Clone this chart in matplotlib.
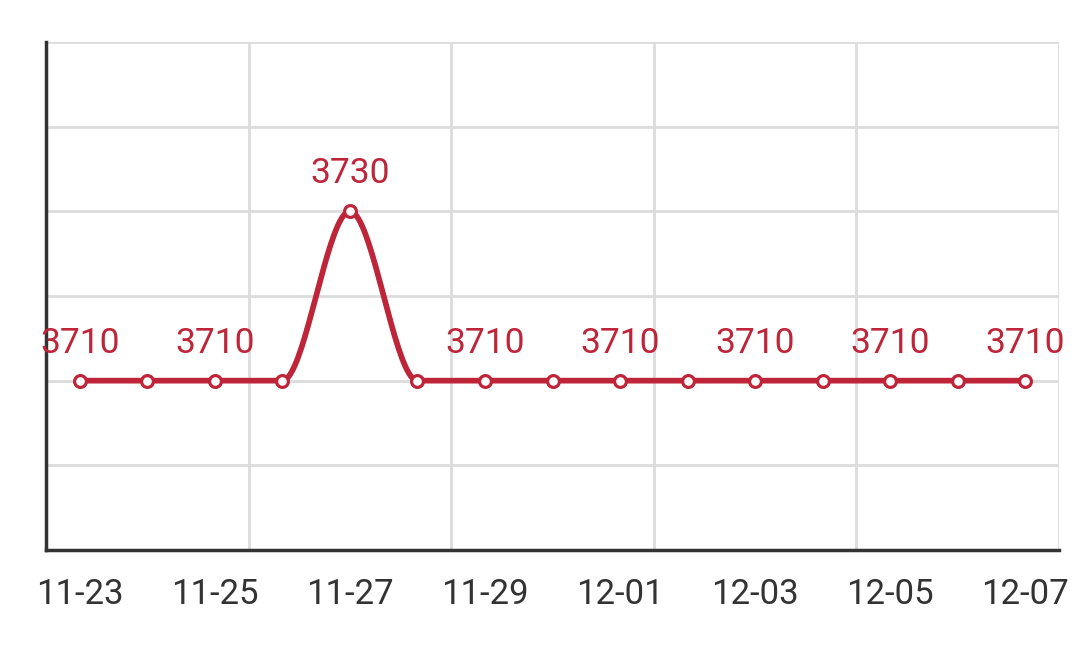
import matplotlib
matplotlib.use("Agg")
import matplotlib.pyplot as plt
import numpy as np

dates = ["11-23", "11-24", "11-25", "11-26", "11-27", "11-28", "11-29", "11-30",
         "12-01", "12-02", "12-03", "12-04", "12-05", "12-06", "12-07"]
values = [3710, 3710, 3710, 3710, 3730, 3710, 3710, 3710,
          3710, 3710, 3710, 3710, 3710, 3710, 3710]

red = "#be2539"
plt.rcParams["font.family"] = ["Roboto", "DejaVu Sans"]


def monotone_curve(x, y, n=40):
    # Fritsch-Carlson monotone cubic, only used to draw the smooth line
    x = np.asarray(x, float)
    y = np.asarray(y, float)
    h = np.diff(x)
    d = np.diff(y) / h
    m = np.zeros_like(y)
    m[0], m[-1] = d[0], d[-1]
    for i in range(1, len(y) - 1):
        if d[i - 1] * d[i] > 0:
            m[i] = 2 / (1 / d[i - 1] + 1 / d[i])
    xs, ys = [], []
    for i in range(len(h)):
        t = np.linspace(0, 1, n)
        h00 = 2 * t**3 - 3 * t**2 + 1
        h10 = t**3 - 2 * t**2 + t
        h01 = -2 * t**3 + 3 * t**2
        h11 = t**3 - t**2
        xs.append(x[i] + t * h[i])
        ys.append(h00 * y[i] + h10 * h[i] * m[i] + h01 * y[i + 1] + h11 * h[i] * m[i + 1])
    return np.concatenate(xs), np.concatenate(ys)


fig = plt.figure(figsize=(10.79, 6.46), dpi=100)
ax = fig.add_axes([0.0426, 0.1486, 0.9389, 0.7864])

idx = np.arange(len(dates))
cx, cy = monotone_curve(idx, values)
ax.plot(cx, cy, color=red, lw=4.1, zorder=3, solid_capstyle="round")
ax.plot(idx, values, "o", ms=8.5, mfc="white", mec=red, mew=2.3, zorder=4)

for i in range(0, len(dates), 2):
    ax.annotate(str(values[i]), (idx[i], values[i]), xytext=(0, 27),
                textcoords="offset points", ha="center", va="center",
                fontsize=25.5, color=red, zorder=5)

ax.set_xlim(-0.5, 14.5)
ax.set_ylim(3690, 3750)
ax.set_yticks(np.arange(3690, 3751, 10))
ax.set_yticklabels([])
ax.set_xticks(np.arange(2.5, 14.6, 3), minor=True)
ax.set_xticks(idx[::2])
ax.set_xticklabels(dates[::2], fontsize=25, color="#333333")
ax.tick_params(axis="x", which="both", length=0, pad=20)
ax.tick_params(axis="y", length=0)
ax.grid(axis="y", color="#dcdcdc", lw=2)
ax.grid(axis="x", which="minor", color="#dcdcdc", lw=2)
ax.grid(axis="x", which="major", visible=False)
for s in ["top", "right"]:
    ax.spines[s].set_visible(False)
for s in ["left", "bottom"]:
    ax.spines[s].set_color("#333333")
    ax.spines[s].set_linewidth(2.5)
ax.set_axisbelow(True)

fig.savefig("out.png", dpi=100)
